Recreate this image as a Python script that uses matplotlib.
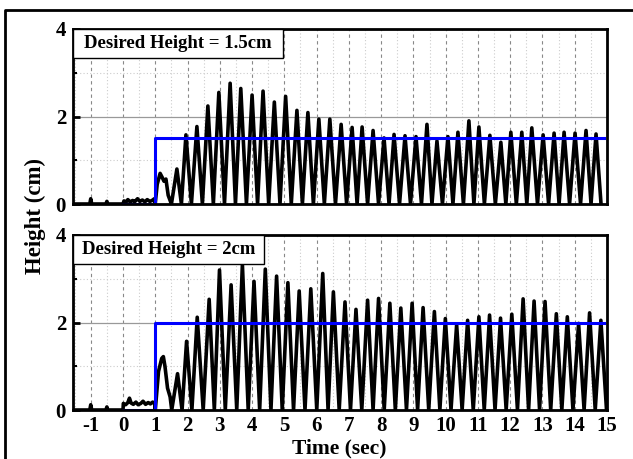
import matplotlib
matplotlib.use("Agg")
import matplotlib.pyplot as plt
from matplotlib.lines import Line2D
from matplotlib.patches import Rectangle
from matplotlib.ticker import MultipleLocator

plt.rcParams['font.family'] = ['Liberation Serif', 'DejaVu Serif']
plt.rcParams['font.weight'] = 'bold'
plt.rcParams['axes.unicode_minus'] = False

# top panel (desired 1.5 cm): start-up part, then oscillation peaks
top_pre_t = [-1.5, -1.03, -1.0, -0.97, -0.53, -0.5, -0.47, 0.0, 0.03, 0.1, 0.15, 0.22,
             0.3, 0.36, 0.45, 0.52, 0.6, 0.68, 0.75, 0.83, 0.9, 0.97, 1.0,
             1.06, 1.15, 1.22, 1.27, 1.33, 1.4, 1.5]
top_pre_h = [0, 0, 0.12, 0, 0, 0.06, 0, 0, 0.07, 0.05, 0.1, 0.05,
             0.08, 0.05, 0.12, 0.06, 0.09, 0.05, 0.1, 0.06, 0.08, 0.12, 0.02,
             0.45, 0.7, 0.6, 0.52, 0.57, 0.2, 0]
top_peak_t = [1.67, 1.95, 2.29, 2.63, 2.97, 3.32, 3.65, 4.0, 4.34, 4.69, 5.04, 5.39, 5.73,
              6.07, 6.41, 6.76, 7.10, 7.41, 7.75, 8.09, 8.40, 8.74, 9.08, 9.42, 9.73,
              10.07, 10.38, 10.72, 11.03, 11.37, 11.71, 12.02, 12.36, 12.67, 13.02,
              13.36, 13.67, 14.01, 14.35, 14.66]
top_peak_h = [0.8, 1.58, 1.77, 2.24, 2.55, 2.76, 2.64, 2.49, 2.58, 2.33, 2.46, 2.14, 2.09,
              1.94, 1.94, 1.82, 1.75, 1.76, 1.68, 1.51, 1.59, 1.56, 1.54, 1.82, 1.44,
              1.54, 1.64, 1.90, 1.76, 1.57, 1.41, 1.64, 1.64, 1.74, 1.58,
              1.62, 1.64, 1.62, 1.68, 1.60]
top_ref_t = [0, 1, 1, 14.9]
top_ref_h = [0, 0, 1.5, 1.5]

# bottom panel (desired 2 cm)
bot_pre_t = [-1.5, -1.03, -1.0, -0.97, -0.53, -0.5, -0.47, 0.0, 0.01, 0.08, 0.15, 0.2,
             0.25, 0.32, 0.4, 0.47, 0.55, 0.62, 0.7, 0.78, 0.85, 0.92, 0.98, 1.0,
             1.1, 1.2, 1.25, 1.3, 1.38, 1.46, 1.51]
bot_pre_h = [0, 0, 0.12, 0, 0, 0.07, 0, 0, 0.15, 0.12, 0.17, 0.27,
             0.16, 0.13, 0.18, 0.12, 0.15, 0.2, 0.13, 0.17, 0.14, 0.18, 0.15, 0.0,
             0.88, 1.18, 1.22, 1.0, 0.5, 0.3, 0]
bot_peak_t = [1.69, 1.97, 2.30, 2.67, 2.99, 3.35, 3.70, 4.06, 4.41, 4.76, 5.11, 5.46, 5.82,
              6.19, 6.52, 6.88, 7.22, 7.58, 7.92, 8.27, 8.61, 8.96, 9.30, 9.65, 9.99,
              10.34, 10.68, 11.03, 11.36, 11.70, 12.05, 12.40, 12.74, 13.08, 13.43,
              13.77, 14.12, 14.46, 14.81]
bot_peak_h = [0.83, 1.57, 2.12, 2.53, 3.20, 2.86, 3.33, 2.94, 3.22, 3.06, 2.91, 2.72, 2.77,
              3.12, 2.70, 2.47, 2.30, 2.51, 2.55, 2.44, 2.33, 2.44, 2.34, 2.25, 2.09,
              1.95, 2.05, 2.13, 2.17, 2.10, 2.19, 2.54, 2.49, 2.48, 2.20,
              2.13, 1.98, 2.22, 2.05]
bot_ref_t = [0, 1, 1, 14.9]
bot_ref_h = [0, 0, 2, 2]

labels = ['Desired Height = 1.5cm', 'Desired Height = 2cm']
xticks = list(range(-1, 16))


def build_trace(pre_t, pre_h, pk_t, pk_h):
    # peaks joined by drops back to zero halfway between them
    t = list(pre_t)
    h = list(pre_h)
    prev = pre_t[-1]
    for i, (pt, ph) in enumerate(zip(pk_t, pk_h)):
        if i > 0:
            t.append((prev + pt) / 2)
            h.append(0)
        t.append(pt)
        h.append(ph)
        prev = pt
    t.append(prev + (pk_t[-1] - pk_t[-2]) / 2)
    h.append(0)
    return t, h


fig = plt.figure(figsize=(6.33, 4.59), dpi=100)
# outer frame: only left and top edges fall inside the picture
fx, fy = 5 / 633, 1 - 10 / 459
fig.lines.append(Line2D([fx, fx, 1.5], [-0.5, fy, fy], transform=fig.transFigure,
                        color='black', linewidth=2.0))

ax1 = fig.add_axes([73 / 633, 1 - 204 / 459, 534 / 633, 175 / 459])
ax2 = fig.add_axes([73 / 633, 1 - 410 / 459, 534 / 633, 175 / 459])

panels = [
    (ax1, build_trace(top_pre_t, top_pre_h, top_peak_t, top_peak_h), top_ref_t, top_ref_h, labels[0], 210),
    (ax2, build_trace(bot_pre_t, bot_pre_h, bot_peak_t, bot_peak_h), bot_ref_t, bot_ref_h, labels[1], 191),
]

for ax, (tt, hh), rt, rh, lab, boxw in panels:
    ax.plot(tt, hh, color='black', linewidth=2.6, zorder=3, solid_joinstyle='round')
    ax.plot(rt, rh, color='#0000ff', linewidth=2.2, zorder=4)
    ax.set_xlim(-1.55, 15)
    ax.set_ylim(0, 4)
    ax.set_xticks(xticks)
    ax.xaxis.set_minor_locator(MultipleLocator(0.5))
    ax.set_yticks([0, 2, 4])
    ax.yaxis.set_minor_locator(MultipleLocator(1))
    ax.grid(False)
    ax.yaxis.grid(True, which='major', linestyle='-', color='#999999', linewidth=0.9)
    ax.yaxis.grid(True, which='minor', linestyle=(0, (1, 2)), color='#cccccc', linewidth=0.8)
    ax.xaxis.grid(True, which='major', linestyle=(0, (3, 3)), color='#888888', linewidth=0.8)
    ax.xaxis.grid(True, which='minor', linestyle=(0, (1, 2)), color='#cccccc', linewidth=0.8)
    ax.set_axisbelow(True)
    for s in ax.spines.values():
        s.set_linewidth(2.0)
        s.set_zorder(5)
    ax.tick_params(axis='y', which='major', direction='in', length=5, width=2, labelsize=15, pad=5)
    ax.tick_params(axis='y', which='minor', direction='in', length=3, width=1.5)
    ax.tick_params(axis='x', which='both', length=0, labelsize=15, pad=4)
    for t in ax.get_xticklabels() + ax.get_yticklabels():
        t.set_fontweight('bold')
    bw = boxw / 534
    bh = 29 / 175
    ax.add_patch(Rectangle((0, 1 - bh), bw, bh, transform=ax.transAxes, facecolor='white',
                           edgecolor='black', linewidth=1.0, zorder=6, clip_on=False))
    ax.text(bw / 2, 1 - bh / 2, lab, transform=ax.transAxes, ha='center', va='center',
            fontsize=13.5, fontweight='bold', zorder=7)

ax1.tick_params(axis='x', labelbottom=False)
fig.text(339 / 633, 1 - 448 / 459, 'Time (sec)', ha='center', va='center',
         fontsize=15.5, fontweight='bold')
fig.text(35 / 633, 1 - 216 / 459, 'Height (cm)', rotation=90, ha='center', va='center',
         fontsize=16.5, fontweight='bold')

fig.savefig('out.png', dpi=100)
